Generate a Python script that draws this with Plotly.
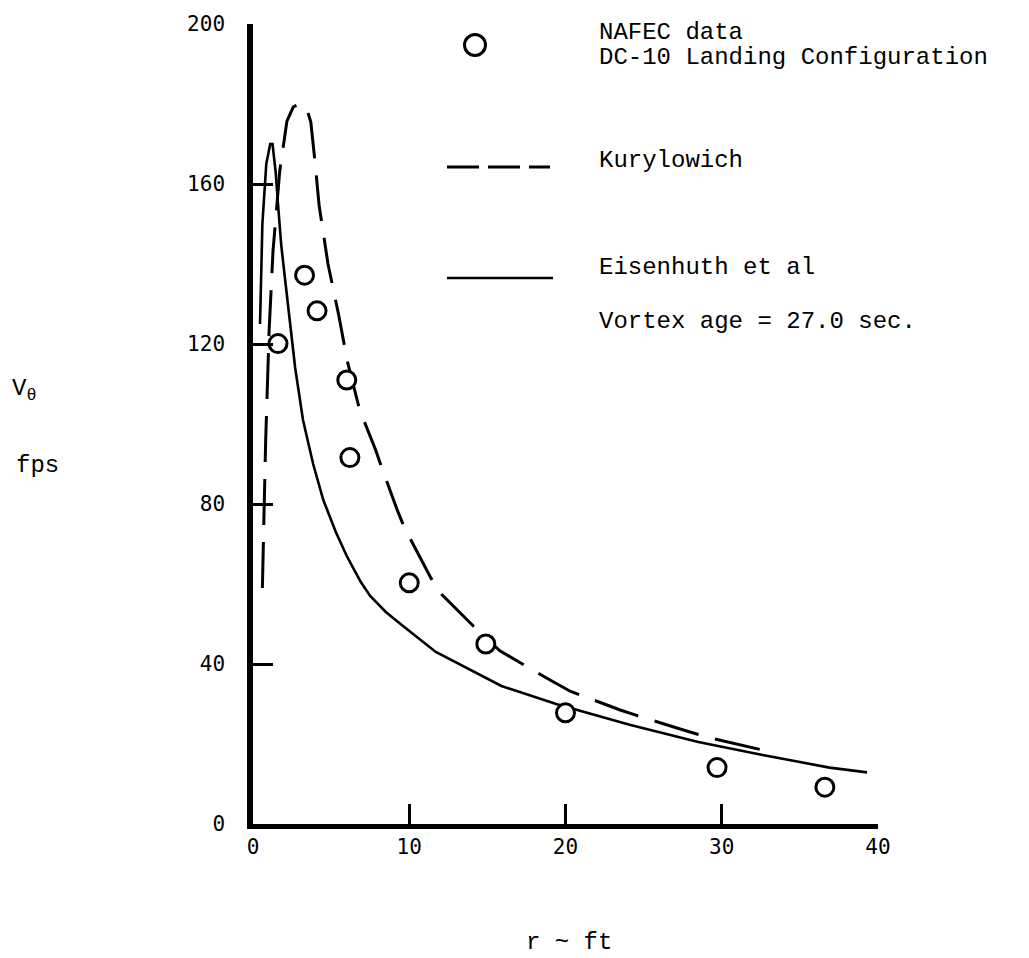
import plotly.graph_objects as go

# ---------------- data ----------------
nafec_r = [1.6, 3.3, 4.1, 6.0, 6.2, 10.0, 14.9, 20.0, 29.7, 36.6]
nafec_v = [120.1, 137.2, 128.3, 111.0, 91.6, 60.3, 45.0, 27.8, 14.1, 9.2]

kury_r = [0.6, 0.81, 1.03, 1.28, 1.71, 2.17, 2.58, 2.96, 3.4, 3.7, 3.97, 4.23,
          4.8, 5.48, 6.05, 6.82, 7.85, 8.2, 9.24, 9.7, 11.4, 12.1, 14.1, 15.8,
          18.7, 20.3, 23.5, 24.5, 27.7, 29.2, 32.7]
kury_v = [59, 95.7, 123.2, 143.2, 163.2, 175.7, 179.3, 180, 179.3, 175.5, 165.5, 154.7,
          140, 127.3, 115.5, 103.6, 93.5, 89.5, 78.4, 74.0, 61.4, 57.3, 49.5, 43.3,
          36.7, 33.2, 28.5, 27.2, 23.3, 21.6, 18.4]

eisen_r = [0.45, 0.6, 0.85, 1.1, 1.25, 1.45, 1.6, 1.8, 2.0, 2.3, 2.7, 3.2, 3.85,
           4.5, 5.3, 6.0, 6.9, 7.5, 8.5, 9.6, 11.7, 15.9, 19.4, 24.1, 28.5, 32.7,
           36.9, 39.3]
eisen_v = [125, 150, 165, 170, 170, 163, 155, 145, 138, 128, 114, 101, 90,
           81, 73, 67, 60.5, 57, 53, 49.5, 43, 34.5, 30, 24.8, 20.5, 17.2,
           14.1, 12.9]

x_ticks = [0, 10, 20, 30, 40]
y_ticks = [0, 40, 80, 120, 160, 200]

legend_lines = ["NAFEC data", "DC-10 Landing Configuration", "Kurylowich",
                "Eisenhuth et al", "Vortex age = 27.0 sec."]

# ---------------- layout geometry ----------------
W, H = 1029, 958
L, R, T, B = 253, 151, 24, 134
PW, PH = W - L - R, H - T - B


def px(x):
    return (x - L) / PW


def py(y):
    return (H - B - y) / PH


TYPE = "Liberation Mono"
TICKFONT = dict(family="DejaVu Sans Mono", size=21, color="black")
TXT = dict(family=TYPE, size=24, color="black")

fig = go.Figure()

fig.add_trace(go.Scatter(x=eisen_r, y=eisen_v, mode="lines",
                         line=dict(color="black", width=2.6),
                         showlegend=False, hoverinfo="skip"))
fig.add_trace(go.Scatter(x=kury_r, y=kury_v, mode="lines",
                         line=dict(color="black", width=3, dash="46px,17px"),
                         showlegend=False, hoverinfo="skip"))
fig.add_trace(go.Scatter(x=nafec_r, y=nafec_v, mode="markers",
                         marker=dict(symbol="circle", size=18, color="white",
                                     line=dict(color="black", width=3)),
                         showlegend=False, hoverinfo="skip"))

axis_common = dict(showgrid=False, zeroline=False, showline=True,
                   linecolor="black", ticks="inside", ticklen=20,
                   tickwidth=2.5, tickcolor="black", tickfont=TICKFONT,
                   mirror=False)

fig.update_xaxes(range=[0, 40], tickvals=x_ticks, linewidth=4.5,
                 ticklabelstandoff=0, **axis_common)
fig.update_yaxes(range=[0, 200], tickvals=y_ticks, linewidth=5.5,
                 ticklabelstandoff=18, **axis_common)

# legend (drawn by hand, as in the original figure)
shapes = [
    dict(type="circle", xref="paper", yref="paper", xsizemode="pixel",
         ysizemode="pixel", xanchor=px(475), yanchor=py(45),
         x0=-10.5, x1=10.5, y0=-10.5, y1=10.5,
         line=dict(color="black", width=3), fillcolor="white"),
    dict(type="line", xref="paper", yref="paper", x0=px(447), x1=px(550),
         y0=py(167), y1=py(167), line=dict(color="black", width=3, dash="32px,9px")),
    dict(type="line", xref="paper", yref="paper", x0=px(447), x1=px(553),
         y0=py(278), y1=py(278), line=dict(color="black", width=2.6)),
]

ann = []
for txt, yy in zip(legend_lines, [33, 58, 160, 267, 321]):
    ann.append(dict(text=txt, xref="paper", yref="paper", x=px(597), y=py(yy),
                    xanchor="left", yanchor="middle", showarrow=False, font=TXT))

ann.append(dict(text="V<sub>θ</sub>", xref="paper", yref="paper", x=px(10), y=py(390),
                xanchor="left", yanchor="middle", showarrow=False, font=TXT))
ann.append(dict(text="fps", xref="paper", yref="paper", x=px(14), y=py(465),
                xanchor="left", yanchor="middle", showarrow=False, font=TXT))
ann.append(dict(text="r ~ ft", xref="paper", yref="paper", x=px(524), y=py(942),
                xanchor="left", yanchor="middle", showarrow=False, font=TXT))

fig.update_layout(width=W, height=H, autosize=False,
                  margin=dict(l=L, r=R, t=T, b=B, pad=0),
                  plot_bgcolor="white", paper_bgcolor="white",
                  shapes=shapes, annotations=ann, showlegend=False)

fig.write_html("out.html")
